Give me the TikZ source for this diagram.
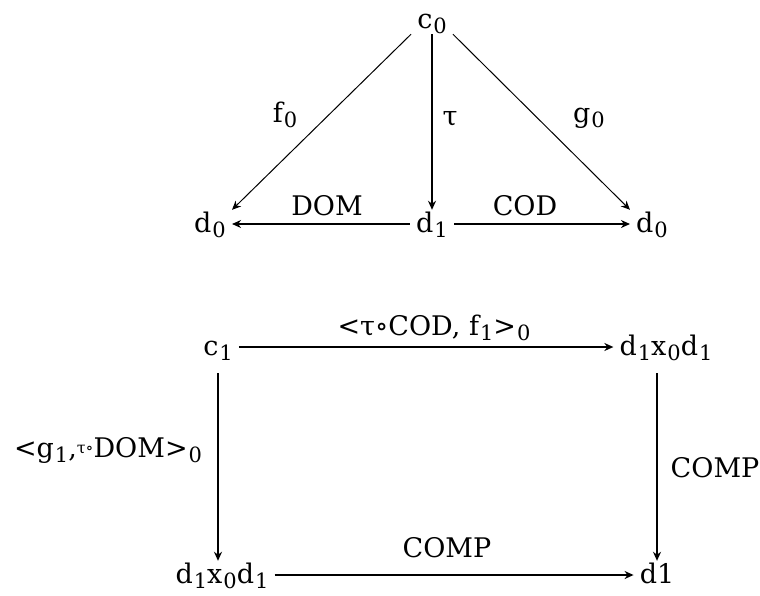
\documentclass[tikz,border=0pt]{standalone}
\usepackage{fontspec}
\setmainfont{DejaVu Serif}
\usetikzlibrary{arrows.meta}
\newcommand{\lo}[1]{\kern1pt\raisebox{-5pt}{\fontsize{21}{23}\selectfont #1}}
\newcommand{\smcomp}{\raisebox{4pt}{\fontsize{16}{18}\selectfont τ∘}}

\begin{document}
\begin{tikzpicture}[
  x=1pt, y=-1pt,
  every node/.style={font=\fontsize{27}{32}\selectfont},
  obj/.style={anchor=base, text height=16pt, text depth=0pt, inner sep=6pt},
  lbl/.style={anchor=base, inner sep=0pt},
  arr/.style={-{Stealth[length=9pt,width=8pt]}, line width=1.6pt},
  thinarr/.style={arr, line width=1pt}
]
\useasboundingbox (0,0) rectangle (760,595);
% upper triangle
\node[obj] (c0) at (432,28) {c\lo{0}};
\node[obj] (d0l) at (210,232) {d\lo{0}};
\node[obj] (d1) at (432,232) {d\lo{1}};
\node[obj] (d0r) at (652,232) {d\lo{0}};
\draw[thinarr] (c0.south west) -- (d0l.north east);
\draw[arr] (c0) -- (d1);
\draw[thinarr] (c0.south east) -- (d0r.north west);
\draw[arr] (d1) -- (d0l);
\draw[arr] (d1) -- (d0r);
\node[lbl] (f0) at (285,122) {f\lo{0}};
\node[lbl] (tau) at (450,125) {τ};
\node[lbl] (g0) at (589,122) {g\lo{0}};
\node[lbl] (dom) at (327,215) {DOM};
\node[lbl] (cod) at (525,215) {COD};
% lower square
\node[obj] (c1) at (218,355) {c\lo{1}};
\node[obj] (pr) at (666,355) {d\lo{1}x\lo{0}d\lo{1}};
\node[obj] (pl) at (222,583) {d\lo{1}x\lo{0}d\lo{1}};
\node[obj] (dd) at (657,583) {d1};
\draw[arr] (c1) -- (pr);
\draw[arr, shorten <=12pt] (c1) -- (c1 |- pl.north);
\draw[arr] (pl) -- (dd);
\draw[arr, shorten <=12pt] (pr.south -| dd) -- (dd);
\node[lbl] (ltop) at (434,335) {<τ∘COD, f\lo{1}>\lo{0}};
\node[lbl] (lleft) at (108,457) {<g\lo{1},\smcomp DOM>\lo{0}};
\node[lbl] (lright) at (715,477) {COMP};
\node[lbl] (lbot) at (447,557) {COMP};
\end{tikzpicture}
\end{document}
